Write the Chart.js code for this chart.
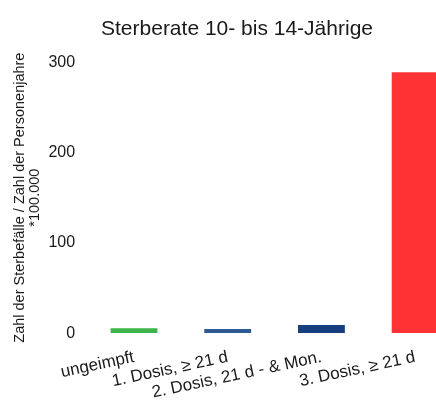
<!DOCTYPE html>
<html>
<head>
<meta charset="utf-8">
<script src="https://cdn.jsdelivr.net/npm/chart.js@4/dist/chart.umd.min.js"></script>
<style>
  html, body { margin: 0; padding: 0; background: #fff; overflow: hidden; }
  #wrap { position: absolute; left: 0; top: 0; width: 462px; height: 409px; }
</style>
</head>
<body>
<div id="wrap"><canvas id="rateChart"></canvas></div>
<script>
// ── data ──
const CATEGORIES = ['ungeimpft', '1. Dosis, ≥ 21 d', '2. Dosis, 21 d - & Mon.', '3. Dosis, ≥ 21 d'];
const RATES      = [5.5, 4.4, 9, 289];
const BAR_COLORS = ['#3db54a', '#2e5a94', '#173f80', '#ff3333'];
const Y_TICKS    = [0, 100, 200, 300];

const FONT = '"Liberation Sans", Arial, sans-serif';
const TEXT = '#1a1a1a';

new Chart(document.getElementById('rateChart'), {
  type: 'bar',
  data: {
    labels: CATEGORIES,
    datasets: [{
      data: RATES,
      backgroundColor: BAR_COLORS,
      barPercentage: 0.5,
      categoryPercentage: 1.0,
    }],
  },
  options: {
    responsive: true,
    maintainAspectRatio: false,
    animation: false,
    layout: { padding: { left: 12, right: 0, top: 4, bottom: 0 } },
    plugins: {
      legend: { display: false },
      tooltip: { enabled: false },
      title: {
        display: true,
        text: 'Sterberate 10- bis 14-Jährige',
        color: TEXT,
        font: { family: FONT, size: 21, weight: 'normal' },
        padding: { top: 13, bottom: 20 },
      },
    },
    scales: {
      x: {
        grid: { display: false },
        border: { display: false },
        ticks: {
          color: TEXT,
          font: { family: FONT, size: 17 },
          minRotation: 12,
          maxRotation: 12,
          autoSkip: false,
          padding: 6,
        },
      },
      y: {
        min: 0,
        max: 300,
        afterBuildTicks: axis => { axis.ticks = Y_TICKS.map(v => ({ value: v })); },
        grid: { display: false },
        border: { display: false },
        ticks: {
          color: TEXT,
          font: { family: FONT, size: 16 },
          padding: 4,
        },
        title: {
          display: true,
          text: ['Zahl der Sterbefälle / Zahl der Personenjahre', '*100.000'],
          color: TEXT,
          font: { family: FONT, size: 14.5, lineHeight: 1.05 },
          padding: { top: 0, bottom: 2 },
        },
      },
    },
  },
});
</script>
</body>
</html>
